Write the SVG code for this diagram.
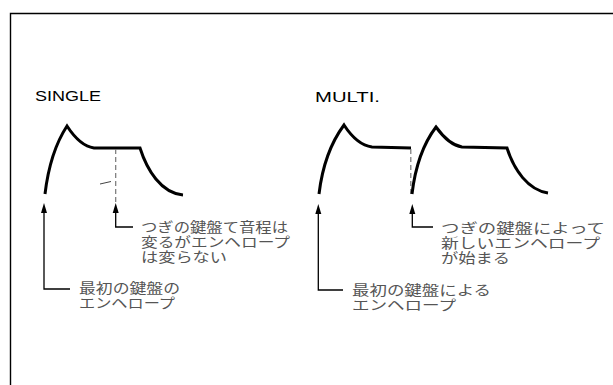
<svg xmlns="http://www.w3.org/2000/svg" width="613" height="385" viewBox="0 0 613 385">
<style>
.env{fill:none;stroke:#000;stroke-width:3;stroke-linejoin:miter;stroke-linecap:butt}
.dash{fill:none;stroke:#777;stroke-width:1.2;stroke-dasharray:5 3}
.lead{fill:none;stroke:#000;stroke-width:1.3}
.head{fill:#000}
.ttl{font-family:"Liberation Sans",Arial,sans-serif;font-size:15px;fill:#000}
.jp{font-family:"Noto Sans CJK JP","Noto Sans CJK SC",sans-serif;font-size:13.5px;fill:#555}
</style>
<defs>
<path id="ah" d="M0,0 L-3,10 L3,10 Z"/>
</defs>
<g id="frame">
<path d="M10.5,385 L10.5,13.5 L613,13.5" fill="none" stroke="#000" stroke-width="1.4"/>
</g>
<g id="single">
<text class="ttl" x="35" y="101" textLength="66" lengthAdjust="spacingAndGlyphs">SINGLE</text>
<path class="env" d="M45,194 Q50,152 67,126 Q80,146 94,148 L140,148 C147,170 161,193 183,195"/>
<line class="dash" x1="115.7" y1="149" x2="115.7" y2="203"/>
<line x1="100" y1="184" x2="111" y2="181.5" stroke="#444" stroke-width="1"/>
</g>
<g id="multi">
<text class="ttl" x="315" y="102" textLength="65" lengthAdjust="spacingAndGlyphs">MULTI.</text>
<path class="env" d="M319,194 Q324,152 344,125 Q357,145 372,147 L411,148"/>
<line class="dash" x1="410.8" y1="149" x2="410.8" y2="194"/>
<path class="env" d="M412,194 Q417,152 436,127 Q449,145 462,147 L507,148 C514,170 528,190 548,193"/>
</g>
<g id="connectors">
<path class="lead" d="M70,289 L44,289 L44,210"/>
<use href="#ah" class="head" x="44" y="203"/>
<path class="lead" d="M133,227 L115.7,227 L115.7,210"/>
<use href="#ah" class="head" x="115.7" y="203"/>
<path class="lead" d="M343,290 L318.3,290 L318.3,211"/>
<use href="#ah" class="head" x="318.3" y="204"/>
<path class="lead" d="M433,227 L412.3,227 L412.3,211"/>
<use href="#ah" class="head" x="412.3" y="204"/>
</g>
<g id="label-single-next">
<text class="jp" x="141" y="232" textLength="147" lengthAdjust="spacingAndGlyphs">つぎの鍵盤て音程は</text>
<text class="jp" x="141" y="247" textLength="149" lengthAdjust="spacingAndGlyphs">変るがエンヘロープ</text>
<text class="jp" x="141" y="262" textLength="86" lengthAdjust="spacingAndGlyphs">は変らない</text>
</g>
<g id="label-single-first">
<text class="jp" x="79" y="293" textLength="101" lengthAdjust="spacingAndGlyphs">最初の鍵盤の</text>
<text class="jp" x="79" y="308" textLength="96" lengthAdjust="spacingAndGlyphs">エンヘロープ</text>
</g>
<g id="label-multi-next">
<text class="jp" x="441" y="233" textLength="164" lengthAdjust="spacingAndGlyphs">つぎの鍵盤によって</text>
<text class="jp" x="441" y="248" textLength="159" lengthAdjust="spacingAndGlyphs">新しいエンヘロープ</text>
<text class="jp" x="441" y="263" textLength="69" lengthAdjust="spacingAndGlyphs">が始まる</text>
</g>
<g id="label-multi-first">
<text class="jp" x="352" y="295" textLength="139" lengthAdjust="spacingAndGlyphs">最初の鍵盤による</text>
<text class="jp" x="352" y="310" textLength="104" lengthAdjust="spacingAndGlyphs">エンヘロープ</text>
</g>
</svg>
